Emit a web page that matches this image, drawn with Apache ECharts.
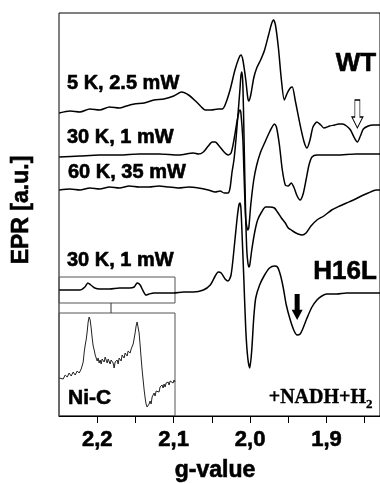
<!DOCTYPE html>
<html>
<head>
<meta charset="utf-8">
<script src="https://cdn.jsdelivr.net/npm/echarts@6/dist/echarts.min.js"></script>
<style>html,body{margin:0;padding:0;background:#fff}#c{width:380px;height:483px}</style>
</head>
<body>
<div id="c"></div>
<script>
// g-value tick labels and minor ticks
const gLabels = [2.2, 2.1, 2.0, 1.9];
const gTicks = [2.2, 2.15, 2.1, 2.05, 2.0, 1.95, 1.9, 1.85];

// WT, 5 K, 2.5 mW  [g, EPR a.u.]
const wt5K = [[2.2497,303],[2.2355,305],[2.2226,304],[2.2097,307],[2.1968,306],[2.1839,309],[2.1709,308],[2.1619,310],[2.1516,312],[2.1386,313],[2.1257,316],[2.1128,317],[2.0999,320],[2.0895,324],[2.0805,321],[2.0714,315],[2.0637,309],[2.0585,306],[2.0508,306],[2.0417,307],[2.0365,307],[2.0327,311],[2.0262,326],[2.0198,346],[2.0146,358],[2.0120,361],[2.0094,356],[2.0056,336],[2.0030,318],[2.0017,315],[1.9991,321],[1.9952,338],[1.9913,348],[1.9862,356],[1.9810,366],[1.9758,381],[1.9720,392],[1.9694,396],[1.9668,391],[1.9629,368],[1.9590,336],[1.9552,316],[1.9513,323],[1.9474,328],[1.9448,329],[1.9410,316],[1.9345,291],[1.9293,274],[1.9255,268],[1.9216,276],[1.9177,289],[1.9125,294],[1.9074,291],[1.9035,288],[1.8958,290],[1.8893,291],[1.8841,292],[1.8789,292],[1.8738,290],[1.8686,286],[1.8634,278],[1.8596,274],[1.8557,280],[1.8518,287],[1.8454,290],[1.8389,291],[1.8298,291]];

// WT, 30 K, 1 mW
const wt30K = [[2.2497,259],[2.2226,260],[2.1968,261],[2.1709,261],[2.1451,262],[2.1193,262],[2.0934,261],[2.0740,263],[2.0676,262],[2.0611,264],[2.0547,270],[2.0495,274],[2.0456,274],[2.0404,270],[2.0340,264],[2.0288,261],[2.0249,263],[2.0211,276],[2.0172,294],[2.0146,304],[2.0133,306],[2.0120,303],[2.0094,276],[2.0081,246],[2.0068,216],[2.0056,196],[2.0030,186],[2.0017,188],[1.9991,211],[1.9952,236],[1.9913,251],[1.9862,264],[1.9810,273],[1.9745,284],[1.9681,292],[1.9655,289],[1.9616,271],[1.9578,246],[1.9539,231],[1.9500,230],[1.9461,233],[1.9423,228],[1.9384,220],[1.9345,216],[1.9306,222],[1.9268,236],[1.9229,251],[1.9190,259],[1.9125,261],[1.8867,261],[1.8609,262],[1.8298,262]];

// WT, 60 K, 35 mW
const wt60K = [[2.2497,226],[2.2355,227],[2.2226,226],[2.2097,228],[2.1968,227],[2.1839,229],[2.1709,228],[2.1580,230],[2.1451,229],[2.1322,229],[2.1193,230],[2.1063,229],[2.0934,228],[2.0805,229],[2.0676,228],[2.0547,226],[2.0456,224],[2.0391,225],[2.0340,223],[2.0288,223],[2.0262,228],[2.0236,244],[2.0211,256],[2.0185,276],[2.0159,301],[2.0133,326],[2.0120,340],[2.0107,344],[2.0094,331],[2.0081,286],[2.0068,236],[2.0056,196],[2.0043,166],[2.0030,154],[2.0017,149],[2.0004,151],[1.9978,166],[1.9939,184],[1.9901,196],[1.9849,204],[1.9797,209],[1.9745,209],[1.9681,208],[1.9642,204],[1.9590,198],[1.9539,193],[1.9500,188],[1.9461,186],[1.9423,184],[1.9371,182],[1.9319,181],[1.9268,183],[1.9203,190],[1.9125,196],[1.9035,200],[1.8932,206],[1.8828,210],[1.8738,213],[1.8647,216],[1.8544,220],[1.8454,223],[1.8350,226],[1.8298,226]];

// H16L, 30 K, 1 mW
const h16l30K = [[2.2497,126],[2.2355,126],[2.2226,126],[2.2161,129],[2.2123,133],[2.2084,131],[2.2032,128],[2.1968,127],[2.1839,127],[2.1709,128],[2.1580,128],[2.1516,129],[2.1477,133],[2.1438,131],[2.1399,125],[2.1361,121],[2.1322,122],[2.1257,123],[2.1128,123],[2.0999,123],[2.0870,124],[2.0740,124],[2.0611,126],[2.0521,131],[2.0456,140],[2.0417,144],[2.0378,143],[2.0327,137],[2.0288,135],[2.0249,141],[2.0211,166],[2.0172,196],[2.0146,211],[2.0133,213],[2.0120,208],[2.0107,186],[2.0081,136],[2.0056,86],[2.0030,58],[2.0004,48],[1.9978,66],[1.9952,98],[1.9926,118],[1.9875,131],[1.9810,141],[1.9745,148],[1.9681,150],[1.9642,149],[1.9603,141],[1.9565,128],[1.9526,111],[1.9474,96],[1.9423,85],[1.9384,81],[1.9345,82],[1.9306,88],[1.9255,98],[1.9190,109],[1.9125,116],[1.9061,120],[1.8996,122],[1.8867,122],[1.8738,123],[1.8544,123],[1.8298,123]];

// Ni-C inset (H16L, magnified)
const niC = [[2.2497,38],[2.2472,40],[2.2446,37],[2.2420,41],[2.2394,39],[2.2369,43],[2.2342,40],[2.2317,44],[2.2291,41],[2.2265,45],[2.2239,43],[2.2213,47],[2.2200,45],[2.2187,54],[2.2174,64],[2.2161,71],[2.2149,76],[2.2136,84],[2.2123,94],[2.2110,99],[2.2097,96],[2.2084,88],[2.2071,78],[2.2058,70],[2.2045,66],[2.2032,61],[2.2019,59],[2.2006,55],[2.1994,58],[2.1981,53],[2.1968,56],[2.1955,52],[2.1942,57],[2.1916,54],[2.1903,59],[2.1877,53],[2.1864,57],[2.1839,52],[2.1826,56],[2.1800,53],[2.1787,48],[2.1774,54],[2.1748,56],[2.1735,52],[2.1722,58],[2.1696,55],[2.1684,61],[2.1658,58],[2.1645,63],[2.1619,60],[2.1606,65],[2.1580,63],[2.1567,67],[2.1554,66],[2.1541,72],[2.1529,77],[2.1516,83],[2.1503,90],[2.1490,94],[2.1477,92],[2.1464,83],[2.1451,71],[2.1438,58],[2.1425,46],[2.1412,36],[2.1399,26],[2.1386,18],[2.1374,12],[2.1361,9],[2.1348,7],[2.1335,12],[2.1322,15],[2.1309,12],[2.1296,19],[2.1283,17],[2.1270,23],[2.1257,20],[2.1244,25],[2.1231,23],[2.1219,27],[2.1206,24],[2.1193,29],[2.1167,31],[2.1154,28],[2.1141,32],[2.1128,29],[2.1115,33],[2.1089,34],[2.1076,31],[2.1063,35],[2.1038,35],[2.1025,33],[2.1012,36],[2.1000,34]];

// arrow markers [g, EPR a.u.]
const wtArrow = [1.8596, 302];
const h16lArrow = [1.9384, 109];

const SANS = '"Liberation Sans", Arial, sans-serif';
const SERIF = '"Liberation Serif", "Times New Roman", serif';
const arrowPath = 'path://M3,0 L8,0 L8,17 L11,17 L5.5,28 L0,17 L3,17 Z';

const chart = echarts.init(document.getElementById('c'), null, {renderer: 'canvas'});

function line(data, extra) {
  return Object.assign({
    type: 'line', data: data, showSymbol: false, symbol: 'none', smooth: 0.25,
    lineStyle: {color: '#000', width: 1.5}, xAxisIndex: 0, yAxisIndex: 0, animation: false, z: 3
  }, extra || {});
}
function txt(x, y, text, size, opts) {
  return Object.assign({type: 'text', x: x, y: y, style: Object.assign({
    text: text, font: 'bold ' + size + 'px ' + SANS, fill: '#000', stroke: '#000', lineWidth: 0.6,
    align: 'left', verticalAlign: 'middle'}, (opts && opts.style) || {})}, (opts && opts.el) || {});
}

const option = {
  animation: false,
  backgroundColor: '#fff',
  grid: [
    {left: 59, top: 13, width: 325, height: 403, show: true, borderColor: '#000', borderWidth: 1, backgroundColor: 'transparent'},
    {left: 59, top: 313, width: 116, height: 103, show: true, borderColor: '#555', borderWidth: 1, backgroundColor: 'transparent'}
  ],
  xAxis: [
    {
      type: 'value', gridIndex: 0, min: 1.83, max: 2.25, inverse: true,
      splitLine: {show: false},
      axisLine: {show: true, lineStyle: {color: '#000', width: 1}},
      axisTick: {show: true, inside: false, length: 7, lineStyle: {color: '#000', width: 1}, customValues: gTicks},
      axisLabel: {show: true, customValues: gLabels, margin: 13, color: '#000',
        fontFamily: SANS, fontWeight: 'bold', fontSize: 22, textBorderColor: '#000', textBorderWidth: 0.6,
        formatter: v => v.toFixed(1).replace('.', ',')}
    },
    {
      type: 'value', gridIndex: 1, min: 2.1, max: 2.25, inverse: true, show: false
    }
  ],
  yAxis: [
    {type: 'value', gridIndex: 0, min: 0, max: 403, show: false},
    {type: 'value', gridIndex: 1, min: 0, max: 103, show: false}
  ],
  series: [
    line(wt5K, {markPoint: {symbol: arrowPath, symbolSize: [11, 28], symbolKeepAspect: false, silent: true,
      itemStyle: {color: '#fff', borderColor: '#000', borderWidth: 1}, label: {show: false},
      data: [{coord: wtArrow}]}}),
    line(wt30K),
    line(wt60K),
    line(h16l30K, {markPoint: {symbol: arrowPath, symbolSize: [11, 26], silent: true,
      itemStyle: {color: '#000'}, label: {show: false}, data: [{coord: h16lArrow}]}}),
    line(niC, {xAxisIndex: 1, yAxisIndex: 1, smooth: false, lineStyle: {color: '#222', width: 1}})
  ],
  graphic: [
    {type: 'rect', shape: {x: 59, y: 277, width: 116, height: 26}, style: {fill: 'none', stroke: '#555', lineWidth: 1}, z: 1},
    {type: 'line', shape: {x1: 111, y1: 303, x2: 111, y2: 313}, style: {stroke: '#333', lineWidth: 1}, z: 1},
    txt(22, 210, 'EPR [a.u.]', 23, {style: {align: 'center'}, el: {rotation: Math.PI / 2}}),
    txt(215, 471, 'g-value', 23, {style: {align: 'center'}}),
    txt(67, 83, '5 K, 2.5 mW', 20),
    txt(67, 137, '30 K, 1 mW', 20),
    txt(68, 172, '60 K, 35 mW', 20),
    txt(67, 260, '30 K, 1 mW', 20),
    txt(356, 64, 'WT', 26, {style: {align: 'center'}}),
    txt(345, 272, 'H16L', 26, {style: {align: 'center'}}),
    txt(68, 398, 'Ni-C', 21),
    txt(366, 398, '+NADH+H', 20, {style: {font: 'bold 20px ' + SERIF, align: 'right', lineWidth: 0.4}}),
    txt(366, 405, '2', 13, {style: {font: 'bold 13px ' + SERIF, lineWidth: 0.3}})
  ]
};
chart.setOption(option);
</script>
</body>
</html>
